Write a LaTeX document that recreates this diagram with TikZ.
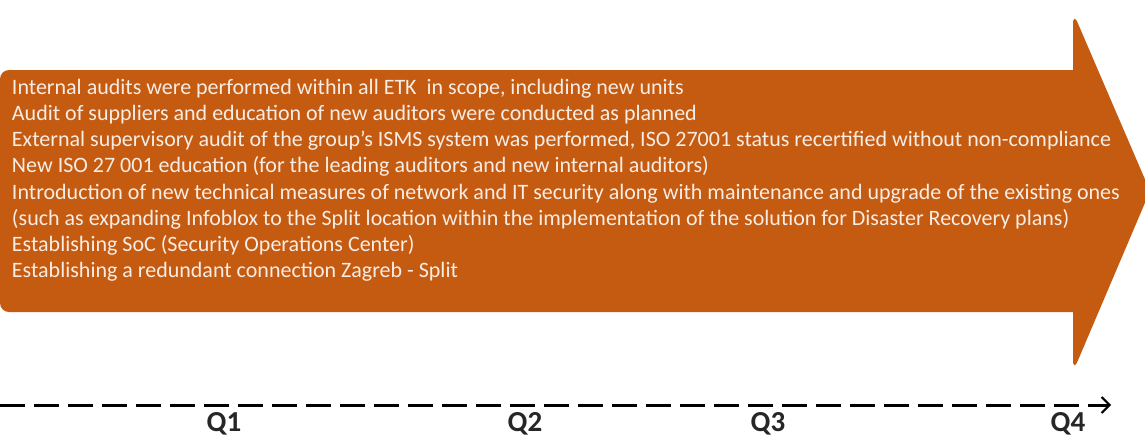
\documentclass[tikz,border=0pt]{standalone}
\usepackage{fontspec}
\setmainfont{Carlito}
\usepackage{xcolor}
\usetikzlibrary{arrows.meta,positioning,calc}
\definecolor{arroworange}{HTML}{C55A11}
\definecolor{itemtext}{HTML}{F7EDE4}
\definecolor{qtext}{HTML}{262626}
\tikzset{
    quarter/.style={font=\fontsize{29}{33}\selectfont\bfseries, text=qtext, inner sep=0pt, anchor=base},
    timeline/.style={line width=3pt, dash pattern=on 25pt off 9pt, -{Straight Barb[length=8pt,width=16pt,line width=2pt]}}
}

\begin{document}
\begin{tikzpicture}[x=1pt, y=-1pt, outer sep=0pt]
    \useasboundingbox (0,0) rectangle (1145,437);
    \fill [arroworange, rounded corners=9pt] (0,70) rectangle (1082,312);
    \fill [arroworange, rounded corners=12pt] (1073,12) -- (1150,191) -- (1073,372) -- cycle;
    \node [anchor=north west, align=left, inner sep=0pt, text=itemtext, font=\fontsize{22}{26.2}\selectfont] (items) at (12,79) {Internal audits were performed within all ETK\ \ in scope, including new units\\Audit of suppliers and education of new auditors were conducted as planned\\External supervisory audit of the group’s ISMS system was performed, ISO 27001 status recertified without non-compliance\\New ISO 27 001 education (for the leading auditors and new internal auditors)\\Introduction of new technical measures of network and IT security along with maintenance and upgrade of the existing ones\\(such as expanding Infoblox to the Split location within the implementation of the solution for Disaster Recovery plans)\\Establishing SoC (Security Operations Center)\\Establishing a redundant connection Zagreb - Split};
    \coordinate (tstart) at (0,405);
    \coordinate (tend) at (1111,405);
    \draw [timeline] (tstart) -- (tend);
    \foreach \q/\xq in {1/224, 2/525, 3/768, 4/1068}
        \node [quarter] (q\q) at (\xq,431) {Q\q};
\end{tikzpicture}
\end{document}
